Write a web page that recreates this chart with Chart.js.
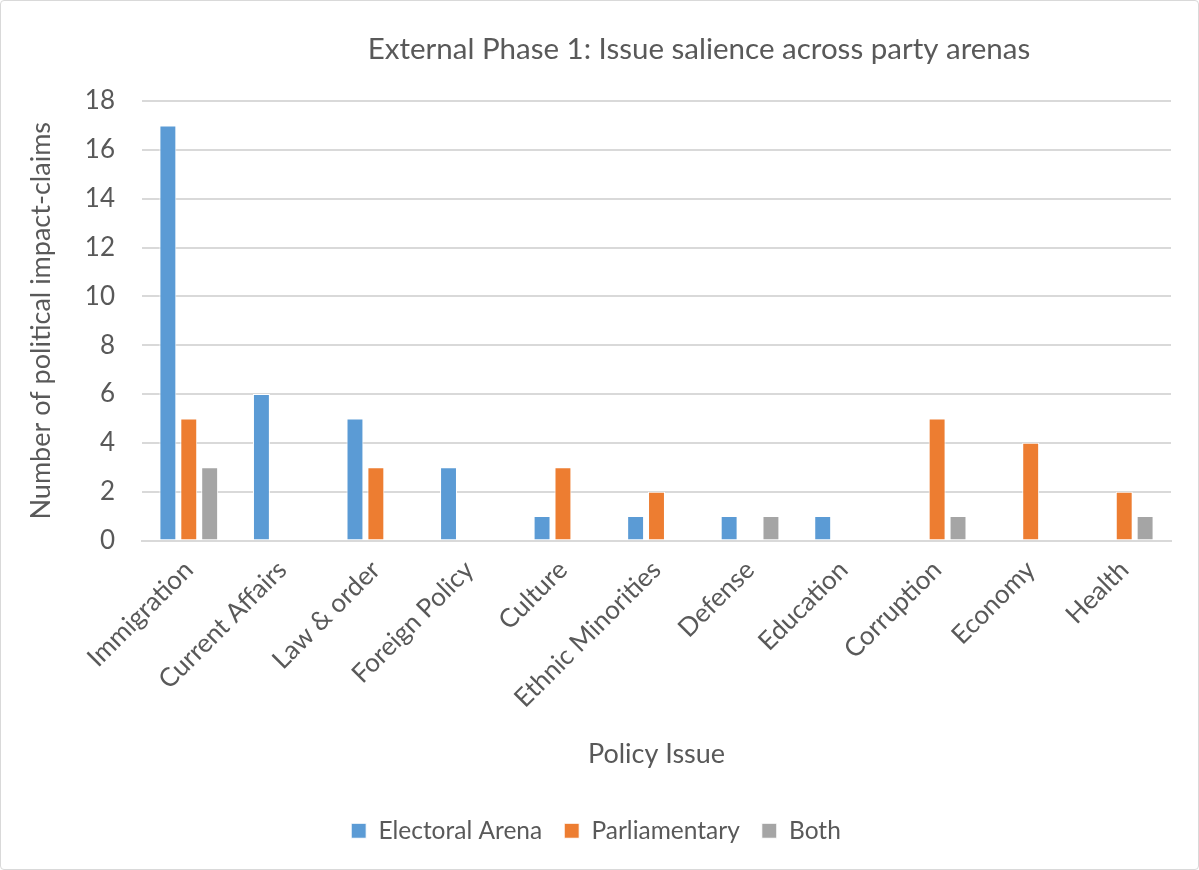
<!DOCTYPE html>
<html>
<head>
<meta charset="utf-8">
<script src="https://cdn.jsdelivr.net/npm/chart.js@4"></script>
<style>
  body { margin: 0; background: #fff; }
  #wrap { position: relative; width: 1199px; height: 870px; box-sizing: border-box; border: 1px solid #d9d9d9; border-radius: 4px; }
</style>
</head>
<body>
<div id="wrap"><canvas id="issueChart"></canvas></div>
<script>
// data
const categories = ['Immigration', 'Current Affairs', 'Law & order', 'Foreign Policy', 'Culture',
  'Ethnic Minorities', 'Defense', 'Education', 'Corruption', 'Economy', 'Health'];
const electoral = [17, 6, 5, 3, 1, 1, 1, 1, 0, 0, 0];
const parliamentary = [5, 0, 3, 0, 3, 2, 0, 0, 5, 4, 2];
const both = [3, 0, 0, 0, 0, 0, 1, 0, 1, 0, 1];
const yTicks = [0, 2, 4, 6, 8, 10, 12, 14, 16, 18];

const textColor = '#595959';
const fontFam = 'Lato, "Open Sans", sans-serif';

// title drawn by hand so it sits where the original has it
const titlePlugin = {
    id: 'ownTitle',
    afterDraw(chart) {
        const c = chart.ctx;
        c.save();
        c.font = '29.5px ' + fontFam;
        c.fillStyle = textColor;
        c.textAlign = 'center';
        c.textBaseline = 'middle';
        c.fillText('External Phase 1: Issue salience across party arenas', 698, 48);
        c.restore();
    }
};

const ctx = document.getElementById('issueChart').getContext('2d');
const chart = new Chart(ctx, {
    type: 'bar',
    data: {
        labels: categories,
        datasets: [
            { label: 'Electoral Arena', data: electoral, backgroundColor: '#5B9BD5' },
            { label: 'Parliamentary', data: parliamentary, backgroundColor: '#ED7D31' },
            { label: 'Both', data: both, backgroundColor: '#A5A5A5' }
        ]
    },
    options: {
        responsive: true,
        maintainAspectRatio: false,
        animation: false,
        datasets: {
            bar: {
                categoryPercentage: 0.67,
                barPercentage: 0.81,
                borderColor: '#ffffff',
                borderWidth: 1,
                borderSkipped: 'bottom'
            }
        },
        layout: { padding: { top: 100, left: 20, right: 27, bottom: 16 } },
        scales: {
            y: {
                min: 0,
                max: 18,
                afterBuildTicks: axis => { axis.ticks = yTicks.map(v => ({ value: v })); },
                afterFit: axis => { axis.width = 121; },
                border: { display: false },
                grid: { color: '#d9d9d9', lineWidth: 2, drawTicks: false },
                ticks: { color: textColor, font: { size: 26, family: fontFam }, padding: 27 },
                title: { display: true, text: 'Number of political impact-claims', color: textColor,
                         font: { size: 27, family: fontFam }, padding: { bottom: 4 } }
            },
            x: {
                afterFit: axis => { axis.height = 256; },
                border: { color: '#d9d9d9', width: 2 },
                grid: { display: false },
                ticks: { color: textColor, font: { size: 26, family: fontFam }, maxRotation: 45, minRotation: 45, padding: 6 },
                title: { display: true, text: 'Policy Issue', color: textColor,
                         font: { size: 27, family: fontFam }, padding: { top: 10, bottom: 26 } }
            }
        },
        plugins: {
            legend: {
                position: 'bottom',
                labels: { color: textColor, font: { size: 24.5, family: fontFam }, boxWidth: 15, boxHeight: 15, padding: 22 }
            },
            tooltip: { enabled: false }
        }
    },
    plugins: [titlePlugin]
});
</script>
</body>
</html>
